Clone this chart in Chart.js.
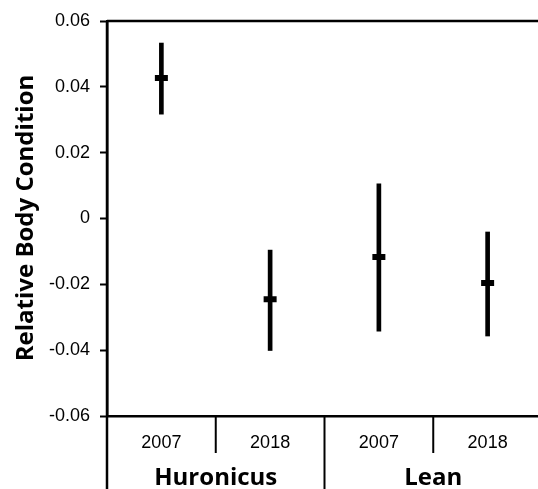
<!DOCTYPE html>
<html>
<head>
<meta charset="utf-8">
<script src="https://cdn.jsdelivr.net/npm/chart.js@4.4.1/dist/chart.umd.min.js"></script>
<style>
  html, body { margin: 0; padding: 0; background: #fff; overflow: hidden; }
  canvas { display: block; }
</style>
</head>
<body>
<canvas id="bodyChart" width="542" height="489"></canvas>
<script>
// data
const years = ['2007', '2018', '2007', '2018'];
const groups = ['Huronicus', 'Lean'];
const means = [0.0427, -0.0245, -0.0117, -0.0196];
const lower = [0.0317, -0.0401, -0.0342, -0.0357];
const upper = [0.0533, -0.0096, 0.0105, -0.0041];
const yTicks = [-0.06, -0.04, -0.02, 0, 0.02, 0.04, 0.06];

const ranges = lower.map((lo, i) => [lo, upper[i]]);

// extra lines and labels: top frame, dividers, group names, y title
const framePlugin = {
  id: 'frame',
  afterDraw(chart) {
    const ctx = chart.ctx;
    const area = chart.chartArea;
    const x = chart.scales.x;
    const H = chart.height;
    ctx.save();
    ctx.strokeStyle = '#000';
    ctx.lineWidth = 2.5;
    ctx.beginPath();
    ctx.moveTo(area.left, area.top);
    ctx.lineTo(area.right, area.top);
    ctx.moveTo(area.left, area.top);
    ctx.lineTo(area.left, H);
    ctx.stroke();

    ctx.lineWidth = 2;
    for (let i = 1; i < years.length; i++) {
      const xd = (x.getPixelForValue(i - 1) + x.getPixelForValue(i)) / 2;
      ctx.beginPath();
      ctx.moveTo(xd, area.bottom);
      ctx.lineTo(xd, i === 2 ? H : 453);
      ctx.stroke();
    }

    ctx.fillStyle = '#000';
    ctx.font = 'bold 24px "Open Sans"';
    ctx.textAlign = 'center';
    ctx.textBaseline = 'alphabetic';
    groups.forEach((g, k) => {
      const cx = (x.getPixelForValue(2 * k) + x.getPixelForValue(2 * k + 1)) / 2;
      ctx.fillText(g, cx, 485);
    });

    ctx.translate(33, 218);
    ctx.rotate(-Math.PI / 2);
    ctx.font = 'bold 24px "Open Sans"';
    ctx.fillText('Relative Body Condition', 0, 0);
    ctx.restore();
  }
};

new Chart(document.getElementById('bodyChart'), {
  data: {
    labels: years,
    datasets: [
      {
        type: 'bar',
        label: 'range',
        data: ranges,
        backgroundColor: '#000',
        borderWidth: 0,
        barThickness: 4
      },
      {
        type: 'line',
        label: 'mean',
        data: means,
        showLine: false,
        pointStyle: 'line',
        pointRadius: 6.5,
        pointBorderWidth: 6,
        borderWidth: 6,
        pointBorderColor: '#000',
        pointBackgroundColor: '#000'
      }
    ]
  },
  options: {
    responsive: false,
    animation: false,
    layout: { autoPadding: false, padding: { top: 21, left: 0, right: 0, bottom: 0 } },
    plugins: {
      legend: { display: false },
      tooltip: { enabled: false }
    },
    scales: {
      x: {
        type: 'category',
        offset: true,
        grid: { display: false },
        border: { color: '#000', width: 2.5 },
        ticks: {
          color: '#000',
          padding: 8,
          font: { family: 'Liberation Sans', size: 18 }
        },
        afterFit(s) {
          s.height = 73;
          s.paddingLeft = 0;
          s.paddingRight = 0;
        }
      },
      y: {
        min: -0.06,
        max: 0.06,
        afterBuildTicks(s) { s.ticks = yTicks.map(v => ({ value: v })); },
        grid: { drawOnChartArea: false, tickLength: 7, tickWidth: 2, tickColor: '#000' },
        border: { color: '#000', width: 2.5 },
        ticks: {
          color: '#000',
          padding: 10,
          font: { family: 'Liberation Sans', size: 18 },
          callback: v => v === 0 ? '0' : v.toFixed(2)
        },
        afterFit(s) {
          s.width = 107;
          s.paddingTop = 0;
          s.paddingBottom = 0;
        }
      }
    }
  },
  plugins: [framePlugin]
});
</script>
</body>
</html>
